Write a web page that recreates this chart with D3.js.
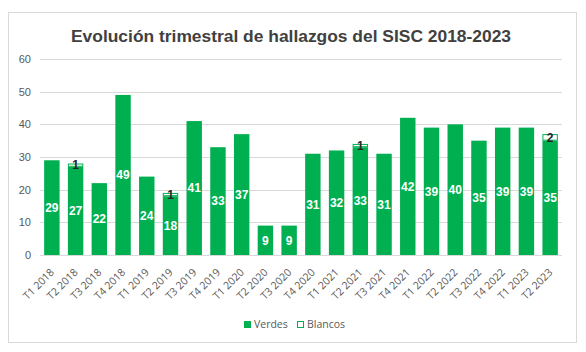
<!DOCTYPE html>
<html>
<head>
<meta charset="utf-8">
<script src="https://cdn.jsdelivr.net/npm/d3@7"></script>
<style>
  html, body { margin: 0; padding: 0; background: #ffffff; }
  svg { display: block; }
</style>
</head>
<body>
<svg id="chart" width="586" height="352"></svg>
<script>
const title = "Evolución trimestral de hallazgos del SISC 2018-2023";
const categories = ["T1 2018","T2 2018","T3 2018","T4 2018","T1 2019","T2 2019","T3 2019","T4 2019",
  "T1 2020","T2 2020","T3 2020","T4 2020","T1 2021","T2 2021","T3 2021","T4 2021",
  "T1 2022","T2 2022","T3 2022","T4 2022","T1 2023","T2 2023"];
const verdes  = [29,27,22,49,24,18,41,33,37,9,9,31,32,33,31,42,39,40,35,39,39,35];
const blancos = [0,1,0,0,0,1,0,0,0,0,0,0,0,1,0,0,0,0,0,0,0,2];
const yTicks = [0,10,20,30,40,50,60];
const seriesNames = ["Verdes","Blancos"];

const GREEN = "#00B050";
const svg = d3.select("#chart");

// outer chart frame
svg.append("rect").attr("x",8.5).attr("y",12.5).attr("width",568).attr("height",330)
  .attr("fill","#fff").attr("stroke","#d9d9d9");

svg.append("text").attr("x",291).attr("y",42).attr("text-anchor","middle")
  .attr("font-family","'Liberation Sans',Arial,sans-serif")
  .attr("font-weight","bold").attr("font-size",17).attr("fill","#404040")
  .attr("textLength",440).attr("lengthAdjust","spacingAndGlyphs")
  .text(title);

const x = d3.scaleBand().domain(categories).range([40,562]).paddingInner(0.35).paddingOuter(0.175);
const y = d3.scaleLinear().domain([0,60]).range([255,59]);

// gridlines
svg.append("g").selectAll("line").data(yTicks).join("line")
  .attr("x1",40).attr("x2",562)
  .attr("y1",d=>Math.round(y(d))+0.5).attr("y2",d=>Math.round(y(d))+0.5)
  .attr("stroke","#d9d9d9").attr("stroke-width",1);

// y axis labels
const yAxis = d3.axisLeft(y).tickValues(yTicks).tickSize(0).tickPadding(0);
const gy = svg.append("g").attr("transform","translate(31,0)").call(yAxis);
gy.select(".domain").remove();
gy.selectAll("text").attr("font-family","'Liberation Sans',Arial,sans-serif")
  .attr("font-size",11).attr("fill","#595959");

// x axis labels
const xAxis = d3.axisBottom(x).tickSize(0).tickPadding(0);
const gx = svg.append("g").attr("transform","translate(0,255)").call(xAxis);
gx.select(".domain").remove();
gx.selectAll("text")
  .attr("font-family","'Open Sans','Liberation Sans',sans-serif")
  .attr("font-size",10.5).attr("fill","#595959")
  .attr("text-anchor","end")
  .attr("dy",0)
  .attr("transform","translate(3,18) rotate(-45)");

// bars
const data = categories.map((c,i)=>({c, v:verdes[i], b:blancos[i]}));
svg.append("g").selectAll("rect").data(data).join("rect")
  .attr("x",d=>x(d.c)).attr("width",x.bandwidth())
  .attr("y",d=>y(d.v)).attr("height",d=>y(0)-y(d.v))
  .attr("fill",GREEN);
svg.append("g").selectAll("rect").data(data.filter(d=>d.b>0)).join("rect")
  .attr("x",d=>x(d.c)+0.5).attr("width",x.bandwidth()-1)
  .attr("y",d=>y(d.v+d.b)+0.5).attr("height",d=>y(d.v)-y(d.v+d.b)-1)
  .attr("fill","#fff").attr("stroke",GREEN).attr("stroke-width",1);

// value labels
svg.append("g").selectAll("text").data(data).join("text")
  .attr("x",d=>x(d.c)+x.bandwidth()/2).attr("y",d=>(y(0)+y(d.v))/2)
  .attr("dy","0.35em").attr("text-anchor","middle")
  .attr("font-family","'Liberation Sans',Arial,sans-serif").attr("font-weight","bold")
  .attr("font-size",12).attr("fill","#fff").text(d=>d.v);
svg.append("g").selectAll("text").data(data.filter(d=>d.b>0)).join("text")
  .attr("x",d=>x(d.c)+x.bandwidth()/2).attr("y",d=>(y(d.v)+y(d.v+d.b))/2)
  .attr("dy","0.35em").attr("text-anchor","middle")
  .attr("font-family","'Liberation Sans',Arial,sans-serif").attr("font-weight","bold")
  .attr("font-size",12).attr("fill","#262626").text(d=>d.b);

// legend
const leg = svg.append("g").attr("transform","translate(244,321)");
const items = leg.selectAll("g").data(seriesNames).join("g")
  .attr("transform",(d,i)=>`translate(${i*53},0)`);
items.append("rect").attr("x",0.5).attr("y",0.5).attr("width",6).attr("height",6)
  .attr("fill",(d,i)=>i===0?GREEN:"#fff").attr("stroke",GREEN);
items.append("text").attr("x",10).attr("y",7)
  .attr("font-family","'Open Sans','Liberation Sans',sans-serif")
  .attr("font-size",10.5).attr("fill","#595959").text(d=>d);
</script>
</body>
</html>
